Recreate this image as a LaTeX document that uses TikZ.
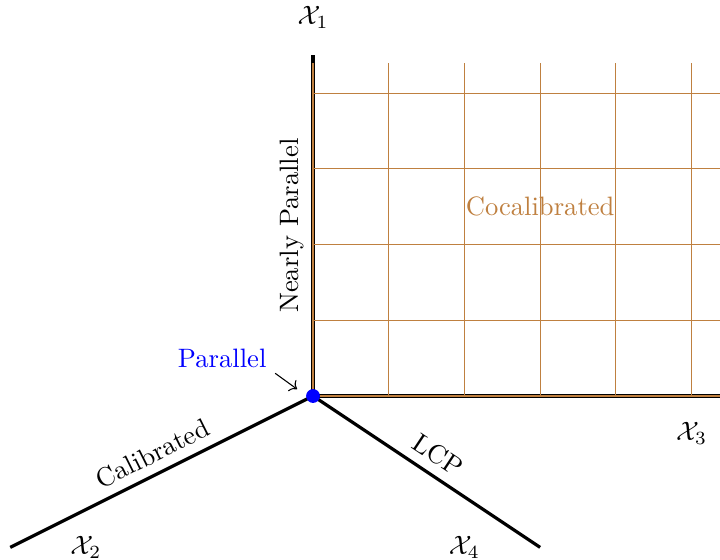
\documentclass[tikz,border=0pt]{standalone}
\usepackage{amsmath}
\usepackage{amssymb}
\usepackage{xcolor}
\usepackage{tikz}
\usetikzlibrary{calc, arrows.meta}

\begin{document}
\begin{tikzpicture}[>=To]

  \useasboundingbox (-4.135,-2.166) rectangle (5.376,5.231);

  % Key coordinates
  \coordinate (O) at (0, 0);          % Common corner
  \coordinate (X1) at (0, 4.5);       % Up
  \coordinate (X2) at (-4, -2);       % Lower left
  \coordinate (X3) at (6, 0);         % Right
  \coordinate (X4) at (3, -2);        % Lower right

  % Axes
  \draw[very thick] (O) -- (X1);
  \draw[very thick] (O) -- (X3);
  \draw[very thick] (X2) -- (O) node[midway, sloped, above] {Calibrated};
  \draw[very thick] (O) -- (X4) node[midway, sloped, above] {LCP};

  % Cocalibrated region
  \node[brown] (cocal) at (3, 2.5) {Cocalibrated};
  \draw[brown, step=1] (0,0) grid (6,4.4);

  \node[rotate=90, anchor=south] (npar) at (0, 2.25) {Nearly Parallel};

  % Labels of the spaces
  \node (lX1) at (0, 5) {$\mathcal{X}_1$};
  \node (lX2) at (-3, -2) {$\mathcal{X}_2$};
  \node (lX3) at (5, -0.5) {$\mathcal{X}_3$};
  \node (lX4) at (2, -2) {$\mathcal{X}_4$};

  % Parallel point
  \node[blue] (par) at (-1.2, 0.5) {Parallel};
  \coordinate (parFrom) at (-0.5, 0.3);
  \coordinate (parTip) at (-0.21, 0.09);
  \draw[->] (parFrom) -- (parTip);
  \fill[blue] (O) circle (2.6pt);
\end{tikzpicture}
\end{document}
